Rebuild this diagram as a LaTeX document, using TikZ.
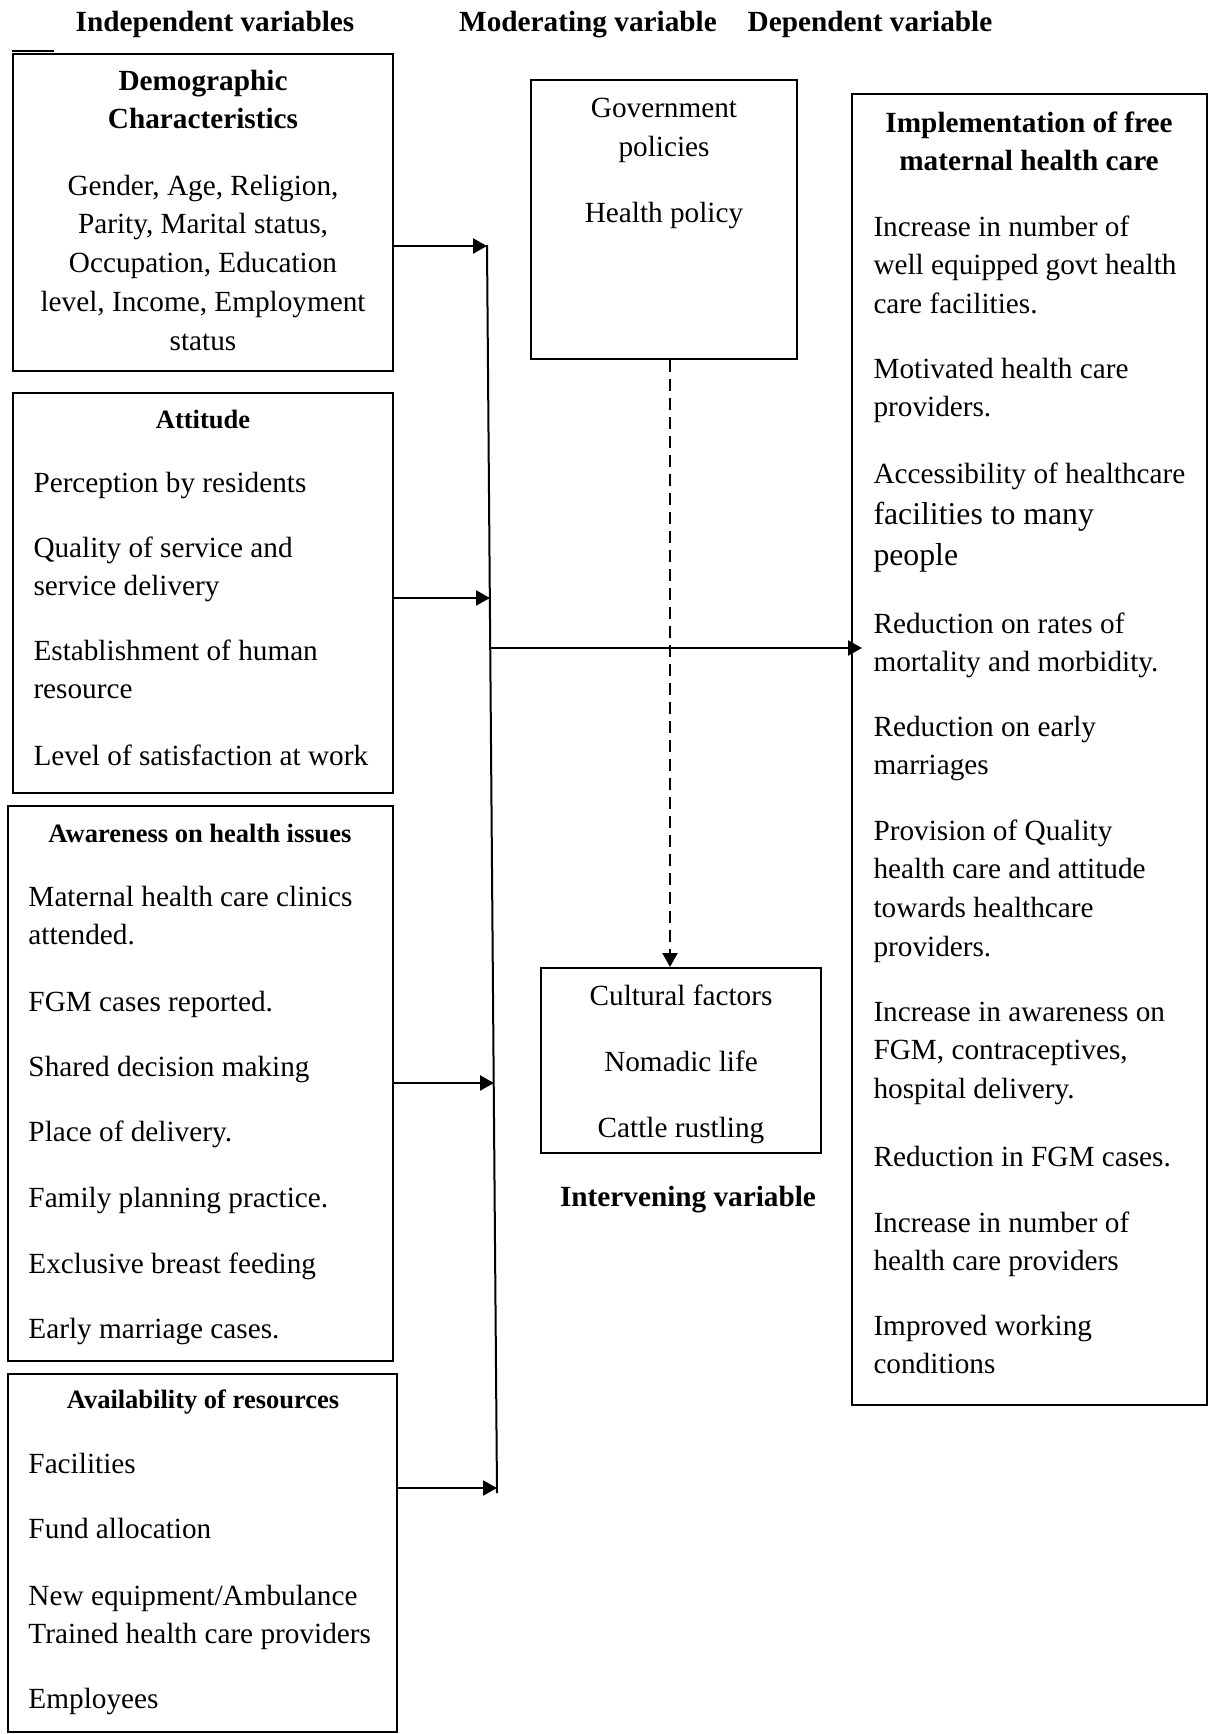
\documentclass[tikz,border=0pt]{standalone}
\usepackage{fontspec}
\setmainfont{Liberation Serif}
\usetikzlibrary{arrows.meta,fit}

\begin{document}
\begin{tikzpicture}[x=0.4pt, y=-0.4pt,
    box/.style={draw, line width=0.8pt, inner sep=0pt},
    arr/.style={-{Triangle[length=5.6pt,width=6pt]}, line width=0.9pt}]
  \tikzset{every node/.style={inner sep=0pt},
    head/.style={font=\bfseries\fontsize{11.7}{15.5}\selectfont, align=center, anchor=base},
    subhead/.style={font=\bfseries\fontsize{10.6}{14}\selectfont, anchor=base},
    body/.style={font=\fontsize{11.7}{15.5}\selectfont, align=left, anchor=base west},
    mid/.style={font=\fontsize{11.7}{15.5}\selectfont, align=center, anchor=base}}
  \useasboundingbox (0,0) rectangle (1209,1734);
  % titles
  \node[head] (tind) at (215,31) {Independent variables};
  \node[head] (tmod) at (588,31) {Moderating variable};
  \node[head] (tdep) at (870,31) {Dependent variable};
  % boxes
  \node[box, fit={(13,54) (393,371)}] (demo) {};
  \node[box, fit={(13,393) (393,793)}] (att) {};
  \node[box, fit={(8,806) (393,1361)}] (aware) {};
  \node[box, fit={(8,1374) (397,1732)}] (avail) {};
  \node[box, fit={(531,80) (797,359)}] (gov) {};
  \node[box, fit={(541,968) (821,1153)}] (interv) {};
  \node[box, fit={(852,94) (1207,1405)}] (dep) {};
  \draw[line width=0.8pt] (demo.north west) ++(0,-2) -- ++(42,0);
  % independent variables (y = baseline of last line)
  \node[head] (demoh) at (203,128.75) {Demographic\\Characteristics};
  \node[mid] (demot) at (203,350) {Gender, Age, Religion,\\Parity, Marital status,\\Occupation, Education\\level, Income, Employment\\status};
  \node[subhead] (atth) at (203,428) {Attitude};
  \foreach \y/\t [count=\i] in {492/Perception by residents, 595.75/{Quality of service and\\service delivery},
      698.75/{Establishment of human\\resource}, 765/Level of satisfaction at work}
    \node[body] (att\i) at (33,\y) {\t};
  \node[subhead] (awareh) at (200,842) {Awareness on health issues};
  \foreach \y/\t [count=\i] in {944.75/{Maternal health care clinics\\attended.}, 1011/FGM cases reported.,
      1076/Shared decision making, 1141/Place of delivery., 1207/Family planning practice.,
      1273/Exclusive breast feeding, 1338/Early marriage cases.}
    \node[body] (aware\i) at (28,\y) {\t};
  \node[subhead] (availh) at (203,1408) {Availability of resources};
  \foreach \y/\t [count=\i] in {1473/Facilities, 1538/Fund allocation,
      1643.75/{New equipment/Ambulance\\Trained health care providers}, 1708/Employees}
    \node[body] (avail\i) at (28,\y) {\t};
  % moderating and intervening
  \node[mid] (govt) at (664,222) {Government\\policies\\[10.8pt]Health policy};
  \node[mid] (intervt) at (681,1137) {Cultural factors\\[10.8pt]Nomadic life\\[10.8pt]Cattle rustling};
  \node[head] (intervh) at (688,1206) {Intervening variable};
  % dependent variable
  \node[head] (deph) at (1029,170.75) {Implementation of free\\maternal health care};
  \foreach \y/\t [count=\i] in {313.5/{Increase in number of\\well equipped govt health\\care facilities.},
      416.75/{Motivated health care\\providers.}, 483/Accessibility of healthcare,
      671.75/{Reduction on rates of\\mortality and morbidity.}, 774.75/{Reduction on early\\marriages},
      956.25/{Provision of Quality\\health care and attitude\\towards healthcare\\providers.},
      1098.5/{Increase in awareness on\\FGM, contraceptives,\\hospital delivery.},
      1166/Reduction in FGM cases., 1270.75/{Increase in number of\\health care providers},
      1373.75/{Improved working\\conditions}}
    \node[body] (dep\i) at (873,\y) {\t};
  \node[body, font=\fontsize{12.7}{16.4}\selectfont] (dep3b) at (873,565) {facilities to many\\people};
  % connectors
  \coordinate (bustop) at (487,245);
  \coordinate (busbot) at (497,1493);
  \coordinate (b1) at (487,246);
  \coordinate (b2) at (490,598);
  \coordinate (b3) at (494,1083);
  \coordinate (b4) at (497,1488);
  \coordinate (bout) at (489,648);
  \coordinate (dash) at (670,359);
  \draw[line width=0.8pt] (bustop) -- (busbot);
  \draw[arr] (demo.east |- b1) -- (b1);
  \draw[arr] (att.east |- b2) -- (b2);
  \draw[arr] (aware.east |- b3) -- (b3);
  \draw[arr] (avail.east |- b4) -- (b4);
  \draw[arr, shorten >=-4.4pt] (bout) -- (dep.west |- bout);
  \draw[arr, dash pattern=on 4.8pt off 2.8pt] (gov.south -| dash) -- (interv.north -| dash);
\end{tikzpicture}
\end{document}
